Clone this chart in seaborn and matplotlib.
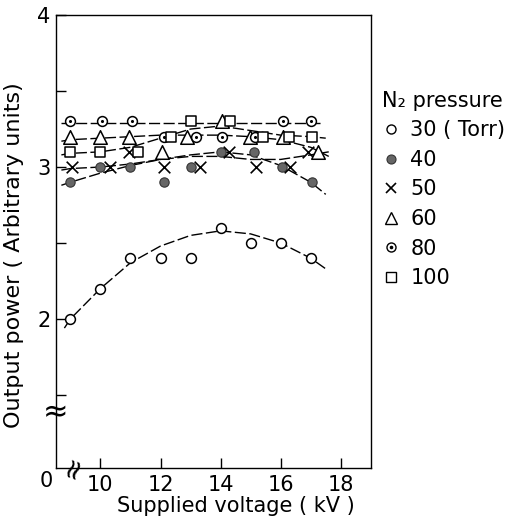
import numpy as np
import pandas as pd
import matplotlib
matplotlib.use("Agg")
import matplotlib.pyplot as plt
import seaborn as sns
from matplotlib.lines import Line2D
from matplotlib.legend_handler import HandlerTuple

# ---------------- data ----------------
labels = ["30 ( Torr)", "40", "50", "60", "80", "100"]

s30_x = [9, 10, 11, 12, 13, 14, 15, 16, 17]
s30_y = [2.0, 2.2, 2.4, 2.4, 2.4, 2.6, 2.5, 2.5, 2.4]
s40_x = [9.0, 10.0, 11.0, 12.1, 13.0, 14.0, 15.1, 16.05, 17.05]
s40_y = [2.9, 3.0, 3.0, 2.9, 3.0, 3.1, 3.1, 3.0, 2.9]
s50_x = [9.05, 10.33, 10.96, 12.1, 13.31, 14.28, 15.19, 16.32, 16.92]
s50_y = [3.0, 3.0, 3.1, 3.0, 3.0, 3.1, 3.0, 3.0, 3.1]
s60_x = [9.0, 10.0, 10.95, 12.04, 12.87, 14.05, 14.97, 16.07, 17.23]
s60_y = [3.2, 3.2, 3.2, 3.1, 3.2, 3.3, 3.2, 3.2, 3.1]
s80_x = [9.0, 10.05, 11.05, 12.1, 13.17, 14.05, 15.16, 16.07, 17.0]
s80_y = [3.3, 3.3, 3.3, 3.2, 3.2, 3.2, 3.2, 3.3, 3.3]
s100_x = [9.0, 10.0, 11.24, 12.35, 13.01, 14.3, 15.41, 16.29, 17.03]
s100_y = [3.1, 3.1, 3.1, 3.2, 3.3, 3.3, 3.2, 3.2, 3.2]

# hand-drawn guide curves
c30_x = [8.8, 9, 10, 11, 12, 13, 14, 15, 16, 17, 17.5]
c30_y = [1.94, 2.0, 2.2, 2.37, 2.48, 2.55, 2.58, 2.56, 2.5, 2.4, 2.33]
c40_x = [8.7, 9, 10, 11, 12, 13, 14, 15, 16, 17, 17.5]
c40_y = [2.88, 2.9, 2.96, 3.01, 3.05, 3.08, 3.1, 3.08, 3.01, 2.9, 2.82]
c50_x = [8.7, 9, 10, 11, 12, 13, 14, 15, 16, 17, 17.6]
c50_y = [2.98, 2.99, 3.0, 3.02, 3.05, 3.07, 3.07, 3.05, 3.05, 3.08, 3.1]
c60_x = [8.7, 9, 10, 11, 12, 13, 14, 15, 16, 17, 17.6]
c60_y = [3.17, 3.18, 3.19, 3.2, 3.21, 3.21, 3.21, 3.2, 3.18, 3.13, 3.07]
c80_x = [8.7, 9, 10, 11, 12, 13, 14, 15, 16, 17, 17.4]
c80_y = [3.29, 3.29, 3.29, 3.29, 3.29, 3.29, 3.29, 3.29, 3.29, 3.29, 3.29]
c100_x = [8.7, 9, 10, 11, 12, 13, 14, 15, 16, 17, 17.5]
c100_y = [3.08, 3.09, 3.1, 3.13, 3.19, 3.25, 3.27, 3.24, 3.21, 3.2, 3.19]

x_ticks = [10, 12, 14, 16, 18]
y_ticks = [2, 3, 4]
y_minor = [1.5, 2.5, 3.5]

# ---------------- style ----------------
sns.set_theme(style="ticks")
plt.rcParams['font.family'] = ['DejaVu Sans']
plt.rcParams.update({
    "axes.linewidth": 1.0,
    "axes.edgecolor": "black",
    "text.color": "black",
    "axes.labelcolor": "black",
    "xtick.color": "black",
    "ytick.color": "black",
    "xtick.direction": "in",
    "ytick.direction": "in",
    "xtick.major.size": 7,
    "ytick.major.size": 7,
    "ytick.minor.size": 7,
    "xtick.major.width": 1.0,
    "ytick.major.width": 1.0,
    "ytick.minor.width": 1.0,
})

FS = 15
fig = plt.figure(figsize=(5.23, 5.21), dpi=100)
ax = fig.add_axes([0.107, 0.102, 0.602, 0.869])

dash = (0, (8, 2.5))
curves = [(c30_x, c30_y), (c40_x, c40_y), (c50_x, c50_y),
          (c60_x, c60_y), (c80_x, c80_y), (c100_x, c100_y)]
for cx, cy in curves:
    dfc = pd.DataFrame({"x": cx, "y": cy})
    sns.lineplot(data=dfc, x="x", y="y", ax=ax, color="black", lw=1.0,
                 linestyle=dash, sort=False, estimator=None, zorder=2)

pts = {
    "30": pd.DataFrame({"x": s30_x, "y": s30_y}),
    "40": pd.DataFrame({"x": s40_x, "y": s40_y}),
    "50": pd.DataFrame({"x": s50_x, "y": s50_y}),
    "60": pd.DataFrame({"x": s60_x, "y": s60_y}),
    "80": pd.DataFrame({"x": s80_x, "y": s80_y}),
    "100": pd.DataFrame({"x": s100_x, "y": s100_y}),
}

sns.scatterplot(data=pts["30"], x="x", y="y", ax=ax, marker="o", s=50,
                color="white", edgecolor="black", linewidth=1.1, zorder=4)
sns.scatterplot(data=pts["40"], x="x", y="y", ax=ax, marker="o", s=45,
                color="#666666", edgecolor="#333333", linewidth=0.8, zorder=4)
sns.scatterplot(data=pts["50"], x="x", y="y", ax=ax, marker="x", s=70,
                color="black", linewidth=1.2, zorder=4)
sns.scatterplot(data=pts["60"], x="x", y="y", ax=ax, marker="^", s=95,
                color="white", edgecolor="black", linewidth=1.1, zorder=4)
sns.scatterplot(data=pts["80"], x="x", y="y", ax=ax, marker="o", s=50,
                color="white", edgecolor="black", linewidth=1.1, zorder=4)
sns.scatterplot(data=pts["80"], x="x", y="y", ax=ax, marker="o", s=5,
                color="black", edgecolor="black", linewidth=0, zorder=5)
sns.scatterplot(data=pts["100"], x="x", y="y", ax=ax, marker="s", s=60,
                color="white", edgecolor="black", linewidth=1.1, zorder=4)

ax.set_xlim(8.52, 19.0)
ax.set_ylim(1.02, 4.0)
ax.set_xticks(x_ticks)
ax.set_xticklabels([str(v) for v in x_ticks], fontsize=FS)
ax.set_yticks(y_ticks)
ax.set_yticklabels([str(v) for v in y_ticks], fontsize=FS)
ax.set_yticks(y_minor, minor=True)
ax.tick_params(axis="x", pad=5, colors="black")
ax.tick_params(axis="y", pad=4, colors="black")
for s in ax.spines.values():
    s.set_visible(True)
    s.set_color("black")

ax.set_xlabel("Supplied voltage ( kV )", fontsize=FS)
ax.set_ylabel("Output power ( Arbitrary units)", fontsize=16)
ax.xaxis.set_label_coords(0.57, -0.062)
ax.yaxis.set_label_coords(-0.10, 0.47)

# corner "0" label and axis-break marks
ax.text(-0.03, -0.028, "0", transform=ax.transAxes, fontsize=FS,
        ha="center", va="center")
ax.text(0.0, 0.121, "≈", transform=ax.transAxes, fontsize=22,
        ha="center", va="center")
ax.text(0.053, 0.0, "≈", transform=ax.transAxes, fontsize=20,
        ha="center", va="center", rotation=70)

# legend
def open_h(m, ms=7):
    return Line2D([], [], marker=m, ls="none", mfc="white", mec="black",
                  ms=ms, mew=1.0)

h30 = open_h("o", 6.5)
h40 = Line2D([], [], marker="o", ls="none", mfc="#666666", mec="#333333",
             ms=6.5, mew=0.8)
h50 = Line2D([], [], marker="x", ls="none", mec="black", ms=7, mew=1.2)
h60 = open_h("^", 8)
h80 = (open_h("o", 6.5),
       Line2D([], [], marker="o", ls="none", mfc="black", mec="black", ms=1.6))
h100 = open_h("s", 6.5)
handles = [h30, h40, h50, h60, h80, h100]

leg = fig.legend(handles, labels, title="N₂ pressure", loc="upper left",
                 bbox_to_anchor=(0.695, 0.862), frameon=False, fontsize=FS,
                 title_fontsize=FS, handlelength=0.8, handletextpad=0.55,
                 labelspacing=0.46, alignment="left",
                 handler_map={tuple: HandlerTuple(ndivide=1, pad=0)})

fig.savefig("out.png", dpi=100)
